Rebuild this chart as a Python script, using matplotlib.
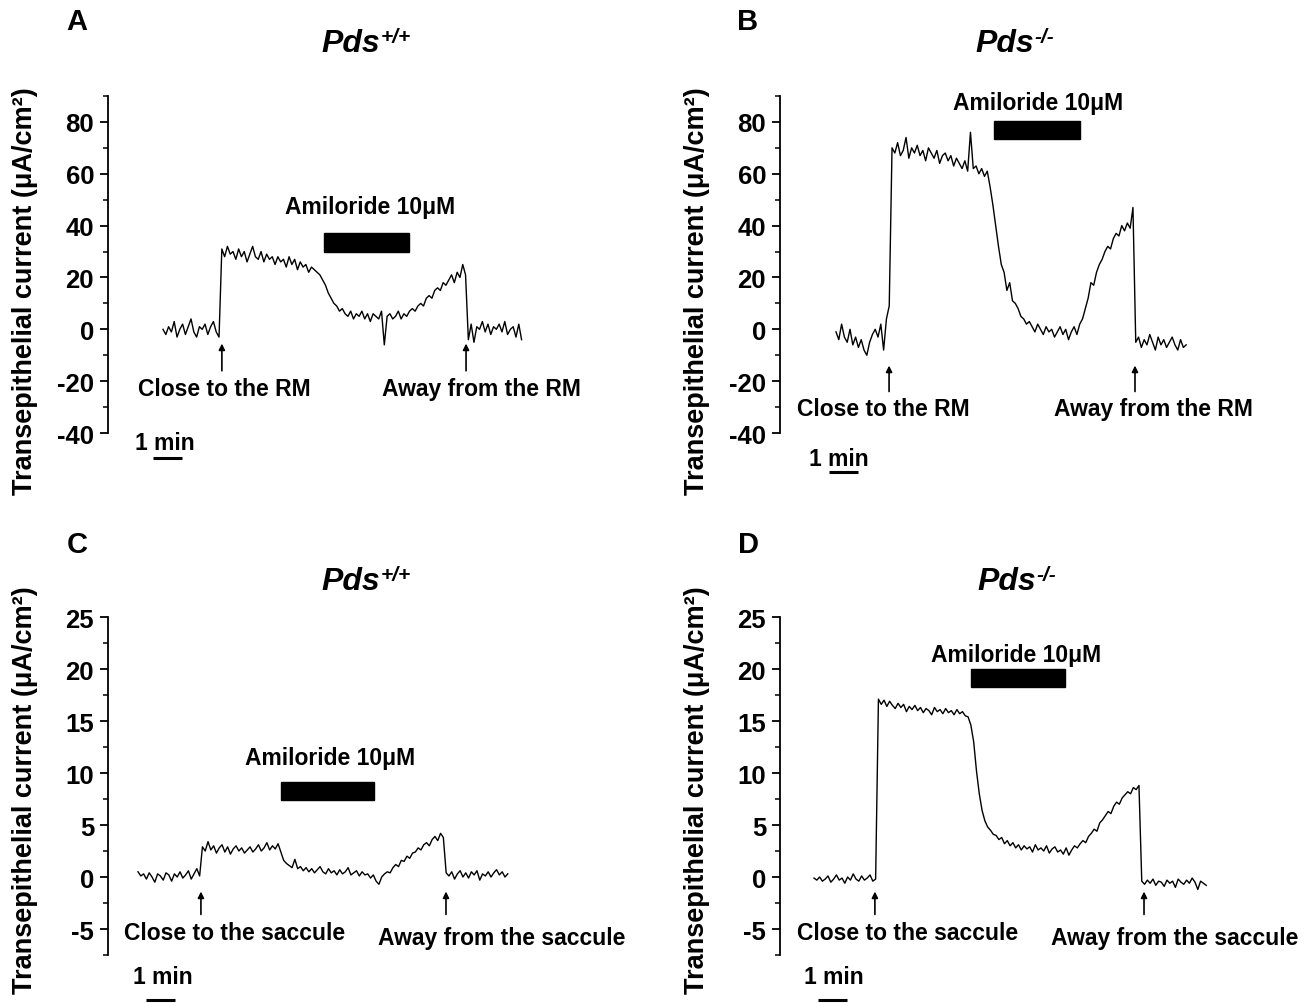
import matplotlib
matplotlib.use("Agg")
import matplotlib.pyplot as plt
from matplotlib.patches import Rectangle
import numpy as np

# ---------------- data (current in uA/cm2, one sample every DT minutes) ----------------
DT = 0.0966  # minutes between read-off samples

trace_A = [
    0, -2, 1, -1, 3, -3, 0, 2, -2, 1,
    4, -1, -3, 1, 0, 2, -2, 1, 3, -1,
    -3, 31, 28, 32, 29, 30, 27, 31, 28, 30,
    26, 29, 32, 28, 27, 30, 26, 29, 27, 28,
    25, 28, 26, 27, 24, 28, 25, 27, 23, 26,
    24, 25, 22, 24, 23, 22, 21, 19, 17, 14,
    12, 10, 9, 7, 8, 6, 5, 7, 4, 6,
    5, 7, 4, 6, 3, 6, 5, 4, 7, -6,
    5, 6, 4, 5, 7, 4, 6, 5, 7, 8,
    7, 9, 10, 9, 12, 13, 12, 15, 16, 15,
    18, 17, 19, 21, 18, 22, 20, 25, 21, -4,
    2, -5, 1, 0, 3, -1, 2, -2, 1, 0,
    2, -1, 3, -2, 0, 1, -3, 2, -4,
]

trace_B = [
    -1, -4, 2, -3, -5, 0, -6, -3, -7, -4,
    -8, -10, -5, -2, 0, -3, 2, -8, 4, 9,
    70, 68, 72, 67, 69, 74, 66, 70, 68, 71,
    67, 69, 65, 70, 68, 66, 69, 64, 67, 68,
    65, 67, 63, 66, 64, 62, 65, 61, 76, 62,
    63, 60, 62, 59, 61, 55, 48, 40, 32, 25,
    22, 15, 18, 11, 10, 8, 5, 4, 2, 3,
    1, -1, 2, 0, -2, 1, -1, 0, -3, -1,
    1, -2, 0, -4, -1, 1, -2, 2, 4, 8,
    12, 18, 17, 22, 25, 27, 30, 32, 31, 35,
    37, 36, 40, 38, 41, 39, 47, -5, -3, -7,
    -4, -6, -2, -5, -8, -3, -6, -4, -7, -5,
    -3, -6, -8, -4, -7, -6,
]

trace_C = [
    0.5, 0.1, 0.3, -0.2, 0.4, 0.0, -0.5, 0.3, 0.1, -0.3,
    0.4, 0.2, -0.4, 0.3, 0.0, 0.5, -0.1, 0.2, 0.6, -0.2,
    0.3, 0.8, 0.1, 2.9, 2.5, 3.4, 2.6, 3.0, 2.3, 2.8,
    3.1, 2.4, 2.9, 2.2, 2.7, 3.0, 2.5, 2.8, 2.3, 2.6,
    2.9, 2.4, 2.7, 3.1, 2.5, 2.8, 3.3, 2.6, 3.0, 2.7,
    3.2, 2.4, 1.6, 1.3, 1.1, 0.9, 1.7, 0.8, 1.0, 0.6,
    0.9, 0.5, 0.8, 0.4, 0.7, 1.0, 0.5, 0.3, 0.8, 0.4,
    0.6, 0.2, 0.7, 0.3, 0.5, 0.9, 0.2, 0.4, 0.6, 0.1,
    0.5, 0.2, 0.3, -0.1, 0.2, -0.4, -0.7, 0.0, 0.3, 0.5,
    0.4, 0.9, 1.2, 1.0, 1.6, 1.5, 2.0, 1.8, 2.3, 2.4,
    2.8, 2.6, 3.1, 3.3, 3.0, 3.6, 3.9, 3.5, 4.2, 3.8,
    0.4, 0.1, 0.5, -0.2, 0.3, 0.6, 0.0, 0.4, -0.1, 0.5,
    0.2, 0.6, -0.3, 0.3, 0.1, 0.5, 0.0, 0.4, 0.7, 0.2,
    0.5, 0.0, 0.3,
]

trace_D = [
    -0.1, -0.3, 0.0, -0.4, -0.2, 0.1, -0.5, -0.2, 0.2, -0.3,
    -0.1, -0.6, 0.0, -0.3, 0.3, -0.2, -0.4, 0.1, -0.3, -0.1,
    0.2, -0.4, -0.2, 17.1, 16.6, 17.0, 16.4, 16.9, 16.5, 16.2,
    16.7, 16.3, 16.6, 15.9, 16.4, 16.1, 16.5, 16.0, 16.3, 15.8,
    16.2, 16.0, 15.6, 16.3, 15.9, 16.1, 15.7, 16.2, 15.8, 16.0,
    15.6, 16.1, 15.7, 15.9, 15.5, 15.4, 14.6, 13.0, 10.2, 8.0,
    6.4, 5.4, 4.8, 4.5, 4.1, 4.0, 3.6, 3.8, 3.2, 3.5,
    3.0, 3.3, 2.8, 3.1, 2.6, 3.0, 2.7, 2.9, 2.4, 3.1,
    2.6, 2.8, 2.5, 3.0, 2.3, 2.7, 2.9, 2.4, 2.6, 2.2,
    2.8, 2.1, 2.6, 3.0, 2.8, 3.2, 3.5, 3.3, 3.9, 4.2,
    4.6, 4.4, 5.2, 5.5, 5.9, 6.3, 6.1, 6.8, 7.2, 7.0,
    7.6, 7.9, 8.2, 8.0, 8.6, 8.4, 8.8, -0.4, -0.7, -0.3,
    -0.6, -0.2, -0.8, -0.4, -0.5, -0.9, -0.3, -0.6, -0.4, -1.0,
    -0.2, -0.5, -0.7, -0.3, -0.6, -0.1, -0.5, -1.2, -0.4, -0.6, -0.8,
]

# amiloride application (start, end) in minutes from trace start
amiloride_A = (5.55, 8.48)
amiloride_B = (5.45, 8.41)
amiloride_C = (4.93, 8.14)
amiloride_D = (5.41, 8.66)

# electrode moved close to / away from the membrane (minutes)
moves_A = (2.03, 10.45)
moves_B = (1.83, 10.31)
moves_C = (2.17, 10.62)
moves_D = (2.10, 11.38)

panel_letters = ["A", "B", "C", "D"]
genotypes = ["+/+", "-/-", "+/+", "-/-"]
close_labels = ["Close to the RM", "Close to the RM", "Close to the saccule", "Close to the saccule"]
away_labels = ["Away from the RM", "Away from the RM", "Away from the saccule", "Away from the saccule"]
ylabel = "Transepithelial current (\u03bcA/cm\u00b2)"
amil_label = "Amiloride 10\u03bcM"

# ---------------- styling / layout ----------------
plt.rcParams['font.family'] = ['Liberation Sans', 'DejaVu Sans']
plt.rcParams['font.weight'] = 'bold'
plt.rcParams['axes.unicode_minus'] = False

W, H = 1310, 1004
PX_PER_MIN = 29.0
fig = plt.figure(figsize=(W / 100, H / 100), dpi=100)
fig.patch.set_facecolor("white")


def fx(px):
    return px / W


def fy(py):
    return 1 - py / H


layouts = [
    dict(ax_x=108, top=97, bot=434, t0=163, ylim=(-40, 90), major=20, minor=10,
         letter=(77, 22), title=(351, 44), ylab=(25, 291),
         amil_txt=(7.14, 47.3), amil_y=(30, 37), close_txt=(2.10, -23), away_txt=(10.97, -23),
         arrow_y=(-16, -5.5), bar=(-0.34, -49.5), bar_txt=(0.07, -43.5)),
    dict(ax_x=780, top=97, bot=434, t0=836, ylim=(-40, 90), major=20, minor=10,
         letter=(748, 22), title=(1005, 44), ylab=(697, 291),
         amil_txt=(6.97, 87.3), amil_y=(73.5, 80.5), close_txt=(1.62, -30.4), away_txt=(10.93, -30.4),
         arrow_y=(-24, -14), bar=(-0.24, -55), bar_txt=(0.10, -49.8)),
    dict(ax_x=108, top=618, bot=956, t0=138, ylim=(-7.5, 25), major=5, minor=2.5,
         letter=(77, 545), title=(351, 582), ylab=(25, 790),
         amil_txt=(6.62, 11.5), amil_y=(7.4, 9.1), close_txt=(3.34, -5.3), away_txt=(12.55, -5.8),
         arrow_y=(-3.6, -1.4), bar=(0.28, -11.8), bar_txt=(0.86, -9.6)),
    dict(ax_x=780, top=618, bot=956, t0=814, ylim=(-7.5, 25), major=5, minor=2.5,
         letter=(748, 545), title=(1007, 582), ylab=(697, 790),
         amil_txt=(6.97, 21.4), amil_y=(18.3, 20.0), close_txt=(3.24, -5.3), away_txt=(12.45, -5.8),
         arrow_y=(-3.6, -1.4), bar=(0.14, -11.8), bar_txt=(0.69, -9.6)),
]

traces = [trace_A, trace_B, trace_C, trace_D]
amils = [amiloride_A, amiloride_B, amiloride_C, amiloride_D]
moves = [moves_A, moves_B, moves_C, moves_D]

AX_W = 480
TXT = 16.5
for i, L in enumerate(layouts):
    ax = fig.add_axes([fx(L['ax_x']), fy(L['bot']), AX_W / W, (L['bot'] - L['top']) / H])
    xmin = -(L['t0'] - L['ax_x']) / PX_PER_MIN
    ax.set_xlim(xmin, xmin + AX_W / PX_PER_MIN)
    ax.set_ylim(*L['ylim'])
    for s in ['top', 'right', 'bottom']:
        ax.spines[s].set_visible(False)
    ax.spines['left'].set_linewidth(1.3)
    ax.set_xticks([])
    ax.yaxis.set_minor_locator(matplotlib.ticker.MultipleLocator(L['minor']))
    lo, hi = L['ylim']
    majors = [v for v in np.arange(-40, 100, L['major']) if lo - 1e-9 <= v <= hi + 1e-9 and not (i < 2 and v > 80)]
    ax.set_yticks(majors)
    ax.yaxis.set_major_formatter(matplotlib.ticker.FormatStrFormatter('%g'))
    ax.tick_params(axis='y', which='major', length=6, width=1.3, labelsize=18.5, pad=4)
    ax.tick_params(axis='y', which='minor', length=3.5, width=1.1)
    for lab in ax.get_yticklabels():
        lab.set_fontweight('bold')
    ax.patch.set_alpha(0)

    y = np.array(traces[i], dtype=float)
    t = np.arange(len(y)) * DT
    ax.plot(t, y, color='black', lw=1.0, clip_on=False)

    # amiloride bar
    a0, a1 = amils[i]
    ya, yb = L['amil_y']
    ax.add_patch(Rectangle((a0, ya), a1 - a0, yb - ya, facecolor='black', edgecolor='black', clip_on=False))
    ax.text(L['amil_txt'][0], L['amil_txt'][1], amil_label, ha='center', va='center',
            fontsize=TXT, fontweight='bold')

    # arrows + labels
    y0, y1 = L['arrow_y']
    for tm in moves[i]:
        ax.annotate('', xy=(tm, y1), xytext=(tm, y0),
                    arrowprops=dict(arrowstyle='-|>', color='black', lw=1.2,
                                    mutation_scale=9, shrinkA=0, shrinkB=0),
                    annotation_clip=False)
    ax.text(L['close_txt'][0], L['close_txt'][1], close_labels[i], ha='center', va='center',
            fontsize=TXT, fontweight='bold', clip_on=False)
    ax.text(L['away_txt'][0], L['away_txt'][1], away_labels[i], ha='center', va='center',
            fontsize=TXT, fontweight='bold', clip_on=False)

    # 1 min scale bar
    bx, by = L['bar']
    ax.plot([bx, bx + 1.0], [by, by], color='black', lw=2.2, clip_on=False, solid_capstyle='butt')
    ax.text(L['bar_txt'][0], L['bar_txt'][1], "1 min", ha='center', va='center',
            fontsize=TXT, fontweight='bold', clip_on=False)

    # panel letter, title, y label
    fig.text(fx(L['letter'][0]), fy(L['letter'][1]), panel_letters[i], ha='center', va='center',
             fontsize=21, fontweight='bold')
    tt = fig.text(fx(L['title'][0]), fy(L['title'][1]), "Pds", ha='center', va='center',
                  fontsize=23, fontweight='bold', style='italic')
    ax.annotate(genotypes[i], xy=(1, 1), xycoords=tt, xytext=(0, 1), textcoords='offset points',
                ha='left', va='top', fontsize=15, fontweight='bold', style='italic',
                annotation_clip=False)
    fig.text(fx(L['ylab'][0]), fy(L['ylab'][1]), ylabel, rotation=90, ha='center', va='center',
             fontsize=19.5, fontweight='bold')

fig.savefig("out.png", dpi=100, facecolor='white')
